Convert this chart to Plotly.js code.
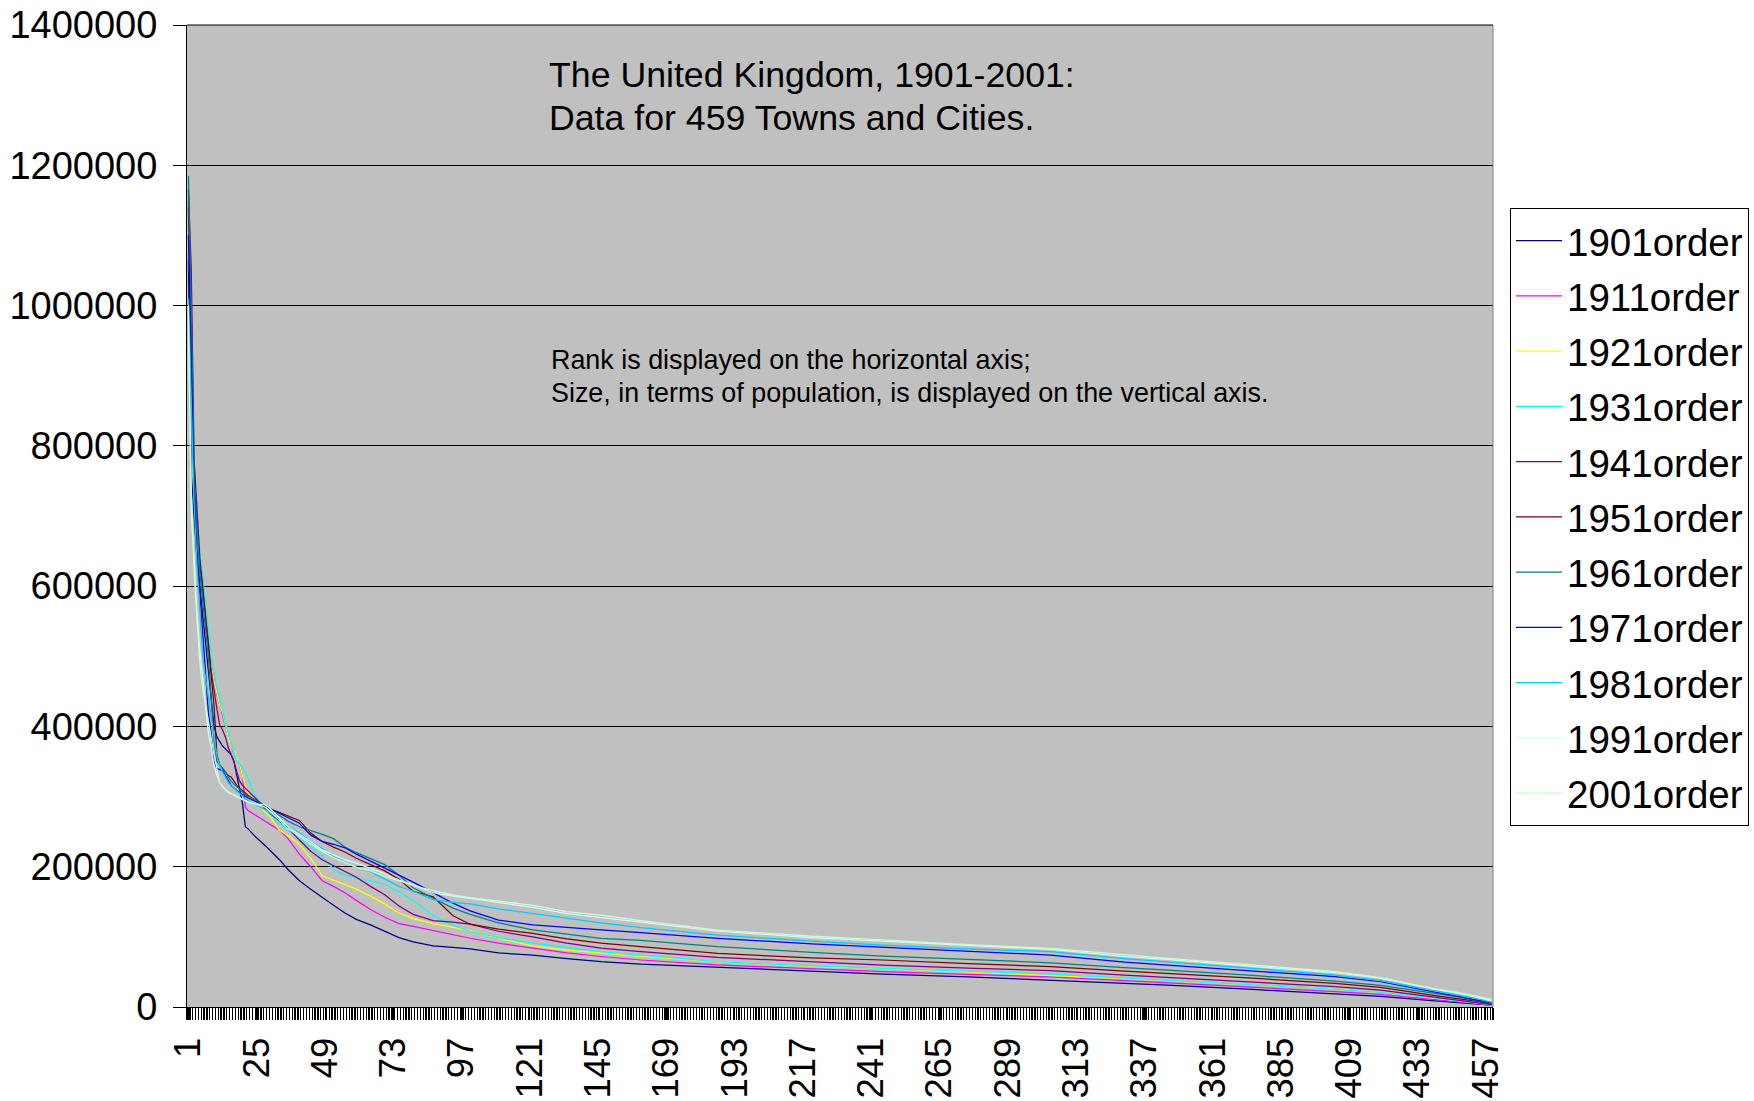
<!DOCTYPE html>
<html>
<head>
<meta charset="utf-8">
<script src="https://cdn.plot.ly/plotly-3.0.1.min.js"></script>
<style>
  html, body { margin: 0; padding: 0; background: #ffffff; }
  #chart { width: 1754px; height: 1101px; }
</style>
</head>
<body>
<div id="chart"></div>
<script>
// Rank positions (1 = largest town) at which populations are listed
const ranks = [1,2,3,4,5,6,7,8,9,10, 11,12,13,14,15,16,17,18,19,20,
  21,22,24,26,28,30,33,36,40,44, 48,52,56,60,65,70,75,80,87,94,
  100,110,122,134,146,160,187,220,245,275, 304,330,345,375,404,420,438,448,454,459];

// Series names shown in the legend
const seriesNames = ['1901order','1911order','1921order','1931order','1941order',
  '1951order','1961order','1971order','1981order','1991order','2001order'];

// Population of the town at each rank, one list per census year
const p1901 = [1065000,760000,700000,640000,600000,560000,520000,480000,440000,400000,
  385000,378000,372000,368000,364000,360000,350000,330000,310000,290000,
  257000,254000,245000,238000,230000,222000,210000,196000,180000,168000,
  156000,145000,134000,125000,117000,108000,99000,93000,87000,85000,
  83000,77000,74000,69000,64600,61000,56500,51000,47000,43000,
  38500,34000,31300,25000,18500,15000,9000,6000,4000,2500];

const p1911 = [1150000,900000,780000,700000,640000,610000,560000,520000,490000,465000,
  445000,430000,415000,400000,385000,372000,362000,353000,345000,330000,
  285000,280000,275000,270000,265000,260000,252000,240000,218000,200000,
  180000,172000,163000,152000,139000,128000,119000,115000,109000,103000,
  98000,91000,84000,77000,72000,67000,60000,54000,50400,46500,
  43000,37500,34600,28500,21800,18000,11000,7500,5000,2000];

const p1921 = [1125000,920000,800000,700000,640000,605000,570000,520000,488000,465000,
  445000,430000,420000,402000,385000,371000,365000,355000,345000,330000,
  315000,305000,295000,285000,278000,270000,252000,244000,232000,212000,
  187000,181000,175000,168000,158000,147000,134000,126000,119000,114000,
  109000,98000,87000,81000,77000,72000,64600,58000,55000,50000,
  45600,40500,37500,31500,25000,21000,13000,9000,6000,3000];

const p1931 = [1180000,880000,780000,700000,650000,615000,580000,540000,500000,475000,
  455000,440000,425000,405000,390000,375000,362000,352000,345000,340000,
  336000,325000,305000,290000,282000,275000,262000,252000,242000,228000,
  215000,196000,188000,184000,180000,175000,164000,152000,130000,117000,
  108000,99000,91000,85000,79000,74000,64600,58500,55000,51000,
  47000,41000,37500,31500,25200,21000,13500,9000,6000,3000];

const p1941 = [1140000,880000,760000,690000,630000,595000,560000,520000,480000,450000,
  425000,402000,395000,385000,370000,360000,350000,335000,322000,316000,
  312000,308000,300000,292000,282000,275000,265000,255000,238000,222000,
  210000,202000,193000,185000,172000,160000,144000,132000,123000,121000,
  118000,108000,100000,91000,84000,79000,70700,64000,59800,55500,
  51800,45500,42300,36000,29000,24000,15000,10000,7000,3500];

const p1951 = [1165000,1050000,780000,700000,640000,600000,560000,520000,470000,430000,
  360000,345000,340000,335000,330000,328000,322000,316000,312000,308000,
  305000,302000,296000,292000,286000,282000,277000,272000,266000,248000,
  236000,228000,221000,212000,203000,194000,182000,165000,157000,130000,
  118000,111000,105000,97000,91000,86000,76400,70000,67000,62000,
  57500,51000,48000,41000,33700,28000,17000,12000,8000,4000];

const p1961 = [1185000,1000000,760000,680000,620000,580000,540000,500000,440000,380000,
  350000,345000,340000,335000,328000,322000,318000,314000,310000,306000,
  303000,300000,296000,292000,286000,280000,273000,265000,257000,252000,
  246000,240000,228000,220000,212000,203000,188000,170000,155000,141000,
  132000,120000,110000,104000,98000,95000,86000,78000,72600,68000,
  63000,56000,52700,45000,37000,31000,20000,14000,9000,5000];

const p1971 = [1100000,900000,740000,650000,590000,540000,480000,420000,390000,350000,
  340000,338000,337000,330000,322000,316000,312000,308000,305000,303000,
  300000,298000,294000,290000,286000,282000,276000,270000,262000,245000,
  236000,232000,227000,218000,208000,199000,189000,178000,163000,148000,
  137000,124000,117000,114000,110000,106000,97800,90000,85000,79000,
  74000,64000,59800,51000,43200,36000,22000,15000,10000,6000];

const p1981 = [1010000,850000,720000,630000,560000,500000,470000,440000,410000,385000,
  358000,345000,335000,328000,320000,316000,312000,308000,304000,300000,
  297000,294000,290000,286000,281000,276000,268000,258000,248000,236000,
  226000,214000,206000,199000,193000,182000,172000,165000,153000,149000,
  147000,140000,133000,126000,120000,113000,102600,94000,88300,83000,
  78800,69000,64600,55000,45600,38000,24000,17000,12000,7000];

const p1991 = [1000000,700000,640000,560000,510000,470000,420000,390000,370000,345000,
  330000,320000,315000,310000,307000,304000,302000,300000,298000,296000,
  294000,292000,290000,289000,288000,282000,270000,257000,246000,236000,
  224000,217000,210000,205000,198000,190000,181000,174000,163000,158000,
  155000,149000,142000,133000,127000,121000,108000,99000,94000,88000,
  82000,72000,68000,58000,49000,41000,26000,19000,14000,9000];

const p2001 = [980000,740000,620000,550000,490000,455000,430000,405000,385000,360000,
  340000,320000,314000,310000,306000,304000,302000,300000,298000,296000,
  294000,292000,290000,288000,285000,278000,266000,254000,243000,232000,
  222000,213000,206000,199000,194000,186000,180000,173000,166000,160000,
  156000,151000,145000,136000,131000,123000,109700,101000,95400,89000,
  83600,74000,69300,60000,50300,42000,26600,20000,15000,11000];

// Axis tick labels
const rankTickLabels = ['1','25','49','73','97','121','145','169','193','217','241',
  '265','289','313','337','361','385','409','433','457'];
const popTickLabels = ['0','200000','400000','600000','800000','1000000','1200000','1400000'];

const seriesValues = [p1901,p1911,p1921,p1931,p1941,p1951,p1961,p1971,p1981,p1991,p2001];

// Classic spreadsheet line palette
const lineColors = ['#000080','#FF00FF','#FFFF00','#00FFFF','#800080',
  '#800000','#008080','#0000FF','#00CCFF','#CCFFFF','#CCFFCC'];

const FONT = 'Arial, "Liberation Sans", sans-serif';

const traces = seriesNames.map((name, i) => ({
  type: 'scatter',
  mode: 'lines',
  name: name,
  legendgroup: name,
  x: ranks,
  y: seriesValues[i],
  line: { color: lineColors[i], width: 1.25 },
  hoverinfo: 'x+y+name'
}));

const layout = {
  width: 1754,
  height: 1101,
  margin: { l: 187, r: 261, t: 25, b: 94, pad: 0, autoexpand: false },
  paper_bgcolor: '#ffffff',
  plot_bgcolor: '#C0C0C0',
  font: { family: FONT, color: '#000000' },
  showlegend: true,
  legend: {
    xref: 'container', yref: 'container',
    x: 0.8609, xanchor: 'left',
    y: 0.8111, yanchor: 'top',
    maxheight: 900,
    bgcolor: '#ffffff',
    bordercolor: '#000000',
    borderwidth: 1,
    tracegroupgap: 2.2,
    itemwidth: 46,
    traceorder: 'grouped',
    font: { family: FONT, size: 38.5, color: '#000000' }
  },
  xaxis: {
    type: 'linear',
    range: [0.5, 459.5],
    tickmode: 'array',
    tickvals: rankTickLabels.map(Number),
    ticktext: rankTickLabels,
    tickangle: -90,
    ticks: 'outside',
    ticklen: 12,
    tickwidth: 1,
    tickcolor: '#000000',
    ticklabelstandoff: 3,
    tickfont: { family: FONT, size: 36.5, color: '#000000' },
    showgrid: false,
    zeroline: false,
    showline: true,
    linecolor: '#000000',
    linewidth: 1,
    automargin: false,
    minor: {
      tickmode: 'linear',
      tick0: 0.5,
      dtick: 1,
      ticks: 'outside',
      ticklen: 12,
      tickwidth: 1.3,
      tickcolor: '#000000',
      showgrid: false
    },
    fixedrange: true
  },
  yaxis: {
    range: [0, 1400000],
    tickmode: 'array',
    tickvals: popTickLabels.map(Number),
    ticktext: popTickLabels,
    ticks: 'outside',
    ticklen: 13,
    tickwidth: 1,
    tickcolor: '#000000',
    ticklabelstandoff: 8,
    tickfont: { family: FONT, size: 38, color: '#000000' },
    showgrid: true,
    gridcolor: '#000000',
    gridwidth: 1,
    zeroline: false,
    showline: true,
    linecolor: '#000000',
    linewidth: 1,
    automargin: false,
    fixedrange: true
  },
  shapes: [
    // plot-area frame on the right and top
    { type: 'line', xref: 'paper', yref: 'paper', x0: 1, x1: 1, y0: 0, y1: 1,
      line: { color: '#808080', width: 1 } },
    { type: 'line', xref: 'paper', yref: 'paper', x0: 0, x1: 1, y0: 1, y1: 1,
      line: { color: '#000000', width: 1 } }
  ],
  annotations: [
    { xref: 'paper', yref: 'paper', x: 0.2757, y: 0.9491, xanchor: 'left', yanchor: 'middle',
      text: 'The United Kingdom, 1901-2001:', showarrow: false,
      font: { family: FONT, size: 35.7, color: '#000000' } },
    { xref: 'paper', yref: 'paper', x: 0.2757, y: 0.9058, xanchor: 'left', yanchor: 'middle',
      text: 'Data for 459 Towns and Cities.', showarrow: false,
      font: { family: FONT, size: 35.7, color: '#000000' } },
    { xref: 'paper', yref: 'paper', x: 0.2772, y: 0.6589, xanchor: 'left', yanchor: 'middle',
      text: 'Rank is displayed on the horizontal axis;', showarrow: false,
      font: { family: FONT, size: 26.9, color: '#000000' } },
    { xref: 'paper', yref: 'paper', x: 0.2772, y: 0.6257, xanchor: 'left', yanchor: 'middle',
      text: 'Size, in terms of population, is displayed on the vertical axis.', showarrow: false,
      font: { family: FONT, size: 26.9, color: '#000000' } }
  ]
};

Plotly.newPlot('chart', traces, layout, { displayModeBar: false, staticPlot: true });
</script>
</body>
</html>
